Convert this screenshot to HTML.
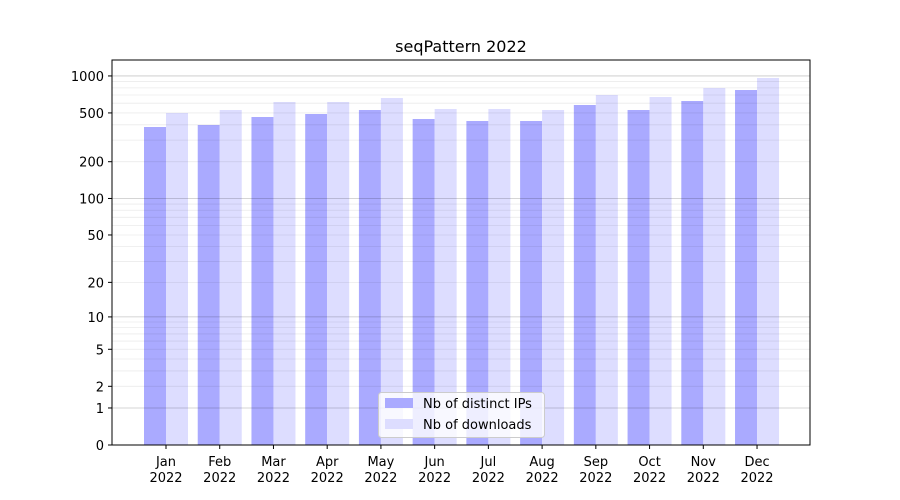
<!DOCTYPE html>
<html><head><meta charset="utf-8"><style>
body{margin:0;background:#fff;}
svg{display:block;font-family:"DejaVu Sans","Liberation Sans",sans-serif;}
</style></head><body>
<svg id="s" width="900" height="500" xmlns="http://www.w3.org/2000/svg">
<rect width="900" height="500" fill="#fff"/>
<g id="bars"></g>
<g id="grid"></g>
<rect x="112" y="60" width="698" height="385" fill="none" stroke="#000" stroke-width="1"/>
<g id="ticks" font-size="13" fill="#000"></g>
<text x="461" y="52" font-size="16" text-anchor="middle">seqPattern 2022</text>
<g>
<rect x="378.5" y="392.5" width="166" height="45" rx="3" fill="#fff" fill-opacity="0.8" stroke="#ccc"/>
<rect x="385" y="398" width="28" height="10" fill="#aaaaff"/>
<text x="423" y="408" font-size="13">Nb of distinct IPs</text>
<rect x="385" y="419" width="28" height="10" fill="#ddddff"/>
<text x="423" y="429" font-size="13">Nb of downloads</text>
</g>
</svg>
<script>
var NS="http://www.w3.org/2000/svg";
function Y(v){return 445-123*Math.log10(1+v);}
function el(p,t,a,txt){var e=document.createElementNS(NS,t);for(var k in a)e.setAttribute(k,a[k]);if(txt!=null)e.textContent=txt;document.getElementById(p).appendChild(e);return e;}
var ip=[127,125,117,114,110,119,121,121,105,110,101,90];
var dl=[113,110,102,102,98,109,109,110,95,97,88,78];
var mon=["Jan","Feb","Mar","Apr","May","Jun","Jul","Aug","Sep","Oct","Nov","Dec"];
for(var i=0;i<12;i++){var c=166+i*53.73;
el("bars","rect",{x:c-22,y:ip[i],width:22,height:445-ip[i],fill:"#aaaaff"});
el("bars","rect",{x:c,y:dl[i],width:22,height:445-dl[i],fill:"#ddddff"});
el("ticks","line",{x1:c,x2:c,y1:445,y2:449,stroke:"#000"});
el("ticks","text",{x:c,y:466,"text-anchor":"middle"},mon[i]);
el("ticks","text",{x:c,y:482,"text-anchor":"middle"},"2022");}
[1,10,100].forEach(function(d){for(var m=2;m<10;m++){var y=Y(m*d);el("grid","line",{x1:112,x2:810,y1:y,y2:y,stroke:"#000","stroke-opacity":0.08,"stroke-width":0.8});}});
[1,10,100,1000].forEach(function(v){var y=Y(v);el("grid","line",{x1:112,x2:810,y1:y,y2:y,stroke:"#000","stroke-opacity":0.22,"stroke-width":0.8});});
[0,1,2,5,10,20,50,100,200,500,1000].forEach(function(v){var y=Y(v);
el("ticks","line",{x1:108,x2:112,y1:y,y2:y,stroke:"#000"});
el("ticks","text",{x:104,y:y+5,"text-anchor":"end"},String(v));});
</script>
</body></html>
